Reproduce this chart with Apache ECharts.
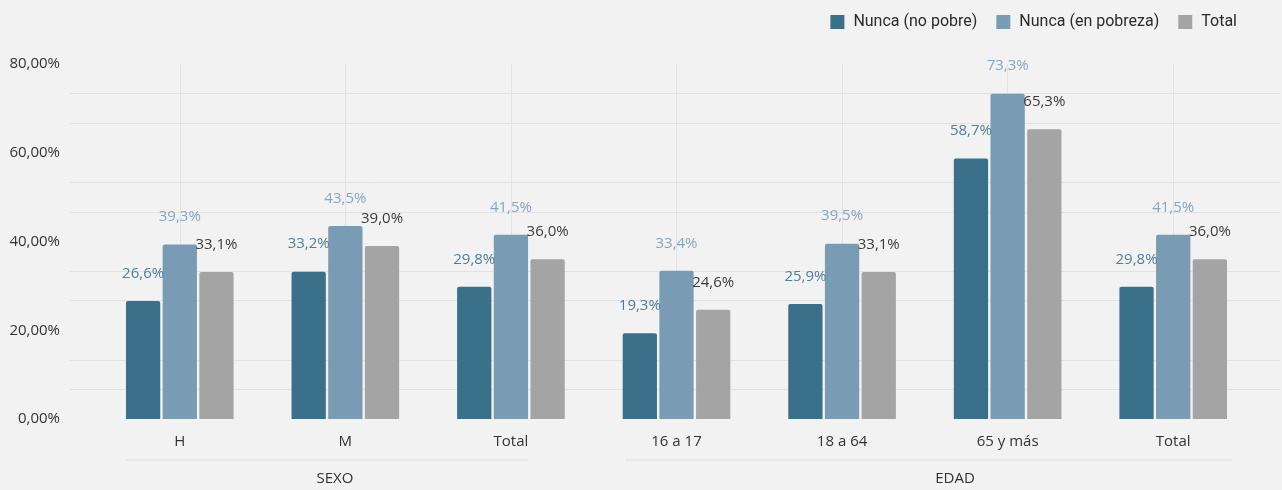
<!DOCTYPE html>
<html>
<head>
<meta charset="utf-8">
<script src="https://cdn.jsdelivr.net/npm/echarts@6/dist/echarts.min.js"></script>
<style>
  html, body { margin: 0; padding: 0; background: #f2f2f2; }
  #chart { width: 1282px; height: 490px; }
</style>
</head>
<body>
<div id="chart"></div>
<script>
// Categories along the x axis (sex group, then age group)
const categories = ['H', 'M', 'Total', '16 a 17', '18 a 64', '65 y más', 'Total '];
// Group captions under the category labels
const groupLabels = ['SEXO', 'EDAD'];
// Series names and values (percent)
const seriesNames = ['Nunca (no pobre)', 'Nunca (en pobreza)', 'Total'];
const nuncaNoPobre = [26.6, 33.2, 29.8, 19.3, 25.9, 58.7, 29.8];
const nuncaPobreza = [39.3, 43.5, 41.5, 33.4, 39.5, 73.3, 41.5];
const totalVals    = [33.1, 39.0, 36.0, 24.6, 33.1, 65.3, 36.0];
// Y axis range and tick step
const yMin = 0, yMax = 80, yStep = 20;

const barColors   = ['#3a7089', '#7a9bb4', '#a4a4a4'];
const labelColors = ['#4f7f96', '#86a7bf', '#3c3c3c'];
const FONT = '"Open Sans", sans-serif';

const fmtPct1 = v => v.toFixed(1).replace('.', ',') + '%';
const fmtPct2 = v => v.toFixed(2).replace('.', ',') + '%';

const seriesData = [nuncaNoPobre, nuncaPobreza, totalVals];

const chart = echarts.init(document.getElementById('chart'), null, { renderer: 'canvas' });

const option = {
  backgroundColor: '#f2f2f2',
  animation: false,
  legend: {
    top: 9,
    right: 40,
    itemWidth: 14,
    itemHeight: 14,
    itemGap: 19,
    icon: 'rect',
    data: seriesNames,
    textStyle: { fontFamily: 'Roboto, sans-serif', fontSize: 16, color: '#2a2a2a', padding: [0, 0, 0, 4] }
  },
  grid: [
    // main plot
    { left: 97, right: 26, top: 64, bottom: 71, containLabel: false },
    // background horizontal guide lines
    { left: 70, right: 2, top: 64, bottom: 71, containLabel: false },
    // vertical guide lines through category centres
    { left: 180, right: 109, top: 64, bottom: 71, containLabel: false }
  ],
  xAxis: [
    {
      gridIndex: 0,
      type: 'category',
      data: categories,
      boundaryGap: true,
      axisLine: { show: false },
      axisTick: { show: false },
      splitLine: { show: false },
      axisLabel: {
        margin: 15,
        fontFamily: FONT,
        fontSize: 15,
        color: '#333',
        formatter: v => v.trim()
      }
    },
    { gridIndex: 1, type: 'value', min: 0, max: 1, show: false },
    {
      gridIndex: 2,
      type: 'category',
      data: categories,
      boundaryGap: false,
      axisLine: { show: false },
      axisTick: { show: false },
      axisLabel: { show: false },
      splitLine: { show: true, lineStyle: { color: '#e3e3e3', width: 1 } }
    }
  ],
  yAxis: [
    {
      gridIndex: 0,
      type: 'value',
      min: yMin, max: yMax, interval: yStep,
      axisLine: { show: false },
      axisTick: { show: false },
      splitLine: { show: false },
      axisLabel: {
        margin: 37,
        fontFamily: FONT,
        fontSize: 15,
        color: '#333',
        formatter: v => fmtPct2(v)
      }
    },
    {
      gridIndex: 1,
      type: 'value',
      min: yMin, max: yMax, interval: yStep,
      axisLine: { show: false },
      axisTick: { show: false },
      axisLabel: { show: false },
      splitLine: { show: false },
      minorTick: { show: false, splitNumber: 3 },
      minorSplitLine: { show: true, lineStyle: { color: '#e2e2e2', width: 1 } }
    },
    {
      gridIndex: 2,
      type: 'value',
      min: yMin, max: yMax, interval: yStep,
      show: false,
      splitLine: { show: false }
    }
  ],
  series: seriesNames.map((name, i) => ({
    name: name,
    type: 'bar',
    xAxisIndex: 0,
    yAxisIndex: 0,
    data: seriesData[i],
    barGap: '7%',
    barCategoryGap: '35%',
    z: 3,
    itemStyle: {
      color: barColors[i],
      borderRadius: [2, 2, 0, 0]
    },
    label: {
      show: true,
      position: 'top',
      distance: 20,
      fontFamily: FONT,
      fontSize: 15,
      color: labelColors[i],
      formatter: p => fmtPct1(p.value)
    }
  })),
  graphic: [
    { type: 'line', shape: { x1: 126, y1: 460, x2: 528, y2: 460 }, style: { stroke: '#dedede', lineWidth: 1 }, silent: true },
    { type: 'line', shape: { x1: 625, y1: 460, x2: 1232, y2: 460 }, style: { stroke: '#dedede', lineWidth: 1 }, silent: true },
    { type: 'text', x: 335, y: 479, style: { text: groupLabels[0], font: '15px ' + FONT, fill: '#333', textAlign: 'center', textVerticalAlign: 'middle' } },
    { type: 'text', x: 955, y: 479, style: { text: groupLabels[1], font: '15px ' + FONT, fill: '#333', textAlign: 'center', textVerticalAlign: 'middle' } }
  ]
};

chart.setOption(option);
</script>
</body>
</html>
